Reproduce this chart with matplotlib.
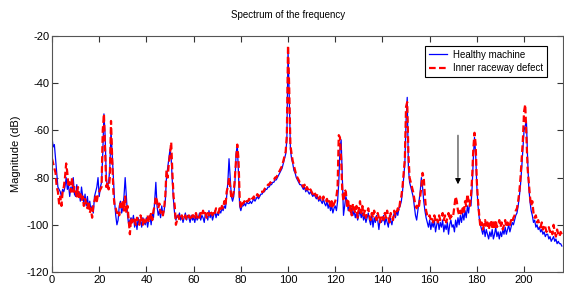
import numpy as np
import matplotlib
matplotlib.use('Agg')
import matplotlib.pyplot as plt

# %% spectrum values (dB), one value every 0.5 Hz from 0 to 216 Hz
healthy = [
    -63, -67, -66, -72, -78, -84, -85, -86, -88, -85, -86, -84, -80, -85, -83, -88, -84, -86, -80, -87,
    -88, -83, -88, -86, -90, -84, -88, -91, -87, -92, -88, -93, -90, -94, -92, -95, -88, -86, -84, -80,
    -88, -84, -82, -70, -53, -62, -80, -84, -82, -76, -60, -70, -80, -90, -96, -100, -98, -92, -90, -95,
    -93, -88, -80, -88, -96, -100, -98, -97, -99, -96, -101, -98, -102, -97, -100, -98, -101, -97, -99, -100,
    -97, -101, -98, -96, -100, -95, -97, -90, -82, -92, -96, -94, -97, -92, -96, -94, -90, -80, -76, -72,
    -68, -72, -82, -90, -96, -98, -96, -97, -95, -98, -96, -99, -97, -95, -98, -96, -97, -99, -96, -98,
    -97, -99, -96, -98, -97, -95, -98, -96, -97, -99, -95, -96, -98, -94, -97, -95, -98, -96, -94, -97,
    -95, -96, -94, -95, -93, -94, -92, -93, -88, -82, -72, -80, -88, -90, -88, -82, -70, -66, -78, -92,
    -94, -92, -92, -91, -92, -90, -91, -91, -90, -91, -90, -89, -90, -89, -88, -89, -88, -87, -87, -86,
    -86, -85, -85, -84, -84, -83, -83, -82, -82, -81, -81, -80, -79, -78, -77, -76, -74, -72, -70, -64,
    -26, -45, -68, -72, -74, -77, -78, -80, -81, -82, -83, -83, -84, -85, -84, -86, -85, -86, -87, -86,
    -87, -88, -87, -88, -89, -88, -90, -89, -90, -91, -89, -91, -92, -90, -93, -91, -94, -92, -95, -93,
    -92, -94, -90, -82, -68, -64, -80, -96, -92, -88, -90, -94, -92, -95, -93, -96, -94, -97, -95, -98,
    -96, -94, -97, -95, -98, -96, -99, -97, -95, -98, -100, -96, -101, -97, -99, -96, -98, -102, -97, -99,
    -98, -96, -100, -97, -99, -101, -96, -98, -100, -97, -95, -97, -94, -96, -93, -92, -90, -86, -80, -74,
    -56, -46, -76, -82, -84, -86, -88, -92, -96, -98, -94, -90, -86, -80, -84, -90, -94, -97, -99, -101,
    -98, -102, -99, -101, -98, -103, -100, -98, -102, -99, -101, -98, -103, -100, -102, -99, -104, -100, -98, -101,
    -100, -103, -98, -101, -97, -100, -96, -99, -95, -98, -94, -97, -92, -95, -90, -92, -84, -72, -63, -70,
    -84, -92, -97, -100, -102, -104, -101, -105, -102, -104, -106, -103, -105, -102, -106, -104, -101, -105, -103, -106,
    -103, -105, -102, -104, -101, -104, -102, -100, -103, -101, -99, -100, -98, -96, -95, -92, -88, -83, -76, -68,
    -60, -58, -56, -72, -84, -90, -94, -96, -99, -98, -101, -100, -102, -101, -103, -102, -104, -103, -105, -104,
    -104, -106, -105, -107, -106, -105, -107, -106, -108, -107, -108, -108, -109,
]

inner_defect = [
    -72, -74, -76, -78, -84, -86, -91, -88, -92, -86, -84, -80, -74, -78, -84, -82, -86, -80, -86, -84,
    -86, -88, -84, -89, -87, -90, -88, -92, -89, -91, -93, -90, -95, -93, -97, -92, -90, -88, -90, -87,
    -86, -85, -84, -60, -53, -68, -84, -82, -85, -80, -56, -72, -86, -92, -93, -95, -94, -96, -91, -93,
    -90, -94, -88, -95, -92, -98, -104, -97, -99, -97, -98, -100, -97, -99, -100, -96, -98, -100, -97, -99,
    -98, -96, -99, -97, -95, -98, -94, -92, -88, -90, -93, -91, -95, -94, -96, -93, -88, -77, -80, -74,
    -70, -65, -78, -88, -92, -100, -98, -96, -98, -97, -96, -98, -97, -96, -98, -97, -96, -97, -98, -96,
    -96, -97, -95, -97, -96, -97, -95, -96, -94, -96, -95, -97, -95, -96, -94, -95, -96, -94, -95, -93,
    -94, -95, -93, -94, -92, -93, -90, -92, -86, -84, -80, -84, -89, -88, -86, -80, -72, -66, -72, -88,
    -93, -91, -91, -90, -91, -90, -90, -89, -90, -89, -89, -88, -89, -88, -87, -88, -87, -86, -86, -86,
    -85, -84, -84, -83, -83, -82, -82, -81, -81, -80, -80, -79, -78, -77, -76, -75, -73, -71, -69, -62,
    -24, -42, -66, -70, -73, -75, -77, -79, -80, -81, -82, -82, -83, -84, -83, -85, -84, -85, -86, -85,
    -86, -87, -86, -87, -88, -87, -89, -88, -89, -90, -88, -90, -90, -89, -91, -90, -92, -90, -93, -91,
    -90, -88, -84, -62, -63, -72, -86, -90, -85, -86, -92, -90, -94, -92, -96, -91, -93, -95, -92, -97,
    -93, -90, -95, -92, -96, -94, -97, -95, -93, -96, -98, -95, -97, -94, -96, -98, -95, -97, -99, -96,
    -96, -98, -95, -97, -94, -97, -99, -95, -97, -98, -94, -96, -95, -93, -94, -90, -88, -84, -78, -72,
    -50, -48, -70, -80, -82, -84, -86, -89, -92, -93, -91, -92, -88, -84, -78, -80, -88, -94, -96, -97,
    -96, -98, -97, -99, -96, -98, -97, -99, -96, -98, -97, -95, -98, -96, -99, -97, -95, -98, -96, -97,
    -96, -92, -88, -90, -94, -96, -94, -96, -93, -95, -90, -92, -87, -90, -92, -88, -80, -68, -61, -66,
    -82, -90, -96, -101, -99, -102, -100, -98, -101, -99, -102, -100, -98, -101, -99, -102, -98, -101, -100, -98,
    -101, -99, -102, -100, -98, -101, -99, -101, -100, -98, -99, -97, -96, -94, -93, -90, -86, -80, -72, -64,
    -52, -49, -62, -76, -82, -88, -92, -90, -95, -97, -96, -99, -98, -100, -101, -99, -102, -100, -101, -103,
    -102, -101, -103, -102, -104, -100, -103, -105, -102, -104, -105, -103, -104,
]

freq = np.arange(len(healthy)) * 0.5

# arrow marking the defect frequency
arrow_x = 172
arrow_top = -61
arrow_tip = -84

# %% figure
plt.rcParams['font.family'] = ['Liberation Sans Narrow', 'Liberation Sans', 'DejaVu Sans']
plt.rcParams['axes.unicode_minus'] = False

fig = plt.figure(figsize=(5.64, 2.92), dpi=100)
ax = fig.add_axes([52/564, 20/292, 511/564, 236/292])

ax.plot(freq, healthy, color='#0000ff', lw=0.9, label='Healthy machine')
ax.plot(freq, inner_defect, color='#ff0000', lw=1.6, ls=(0, (3, 1.5)), label='Inner raceway defect')

# gray shaft, black head
ax.annotate('', xy=(arrow_x, arrow_tip + 3), xytext=(arrow_x, arrow_top),
            arrowprops=dict(arrowstyle='-', color='#808080', lw=1.3))
ax.annotate('', xy=(arrow_x, arrow_tip), xytext=(arrow_x, arrow_tip + 4),
            arrowprops=dict(arrowstyle='-|>', fc='black', ec='black', lw=0.8, mutation_scale=8))

ax.set_xlim(0, 216.5)
ax.set_ylim(-120, -20)
ax.set_xticks(np.arange(0, 201, 20))
ax.set_yticks(np.arange(-120, -19, 20))
ax.tick_params(direction='in', top=True, right=True, length=4, width=0.8,
               labelsize=8, color='#333333', pad=2)
for s in ax.spines.values():
    s.set_color('#555555')
    s.set_linewidth(0.8)

ax.set_ylabel('Magnitude (dB)', fontsize=8, family=['Liberation Sans', 'DejaVu Sans'], labelpad=4)
fig.text(288/564, 1 - 15/292, 'Spectrum of the frequency', ha='center', va='center', fontsize=7)

leg = ax.legend(loc='upper right', bbox_to_anchor=(0.968, 0.958), borderaxespad=0,
                fancybox=False, framealpha=1, edgecolor='black', fontsize=7,
                handlelength=1.8, borderpad=0.4, labelspacing=0.35, handletextpad=0.6)
leg.get_frame().set_linewidth(0.8)

fig.savefig('out.png', dpi=100)
